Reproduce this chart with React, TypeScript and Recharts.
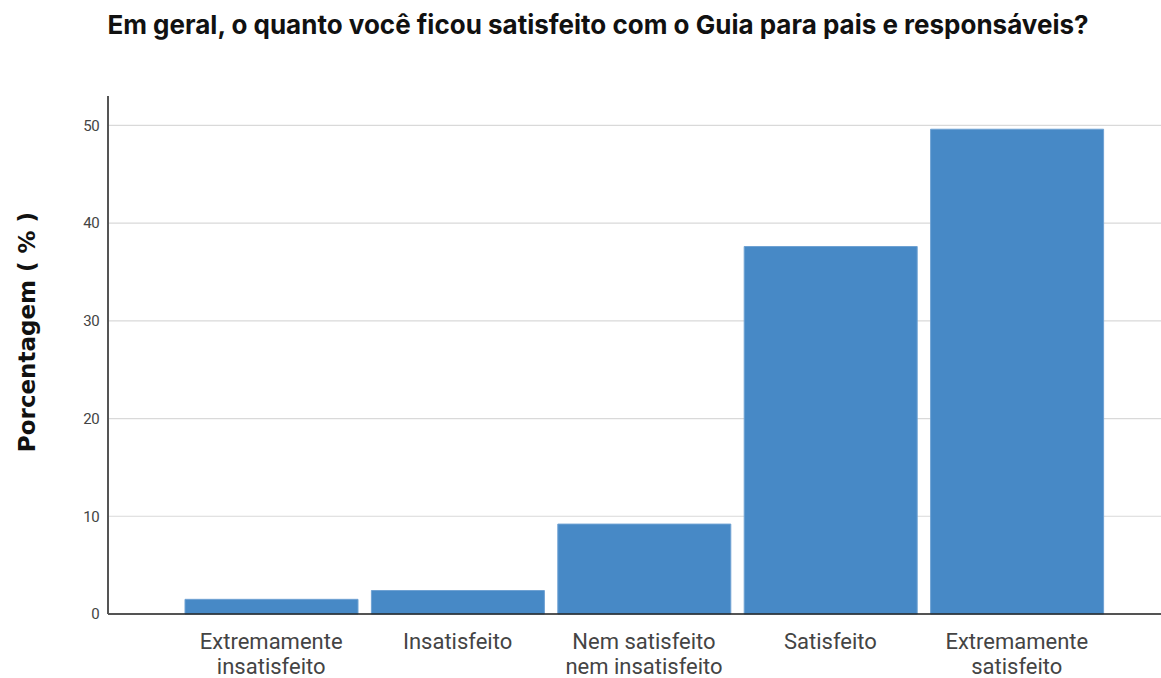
import React from 'react';
import { BarChart, Bar, XAxis, YAxis, CartesianGrid } from 'recharts';

const categories = [
  'Extremamente\ninsatisfeito',
  'Insatisfeito',
  'Nem satisfeito\nnem insatisfeito',
  'Satisfeito',
  'Extremamente\nsatisfeito',
];
const percentages = [1.5, 2.4, 9.2, 37.6, 49.6];
const yTicks = [0, 10, 20, 30, 40, 50];
const title = 'Em geral, o quanto você ficou satisfeito com o Guia para pais e responsáveis?';
const yLabel = 'Porcentagem ( % )';

const data = categories.map((c, i) => ({ category: c, value: percentages[i] }));

const XTick = (props: any) => {
  const { x, y, payload } = props;
  const lines = String(payload.value).split('\n');
  return (
    <text x={x} y={y} textAnchor="middle" fill="#444" fontFamily="Roboto, sans-serif" fontSize={22}>
      {lines.map((l: string, i: number) => (
        <tspan key={i} x={x} dy={i === 0 ? 27 : 25}>{l}</tspan>
      ))}
    </text>
  );
};

const YLabel = () => (
  <text
    x={27}
    y={332}
    transform="rotate(-90 27 332)"
    textAnchor="middle"
    dominantBaseline="central"
    fill="#111"
    fontFamily="'DejaVu Sans', sans-serif"
    fontWeight={700}
    fontSize={23}
  >
    {yLabel}
  </text>
);

export default function App() {
  return (
    <div style={{ position: 'absolute', left: 0, top: 0, width: 1161, height: 678, background: '#fff' }}>
      <div
        style={{
          position: 'absolute',
          left: 0,
          width: 1196,
          top: 9,
          textAlign: 'center',
          fontFamily: 'Inter, sans-serif',
          fontWeight: 700,
          fontSize: 26,
          color: '#111',
          whiteSpace: 'nowrap',
        }}
      >
        {title}
      </div>
      <BarChart
        width={1161}
        height={678}
        data={data}
        margin={{ top: 96, right: 0, bottom: 0, left: 0 }}
      >
        <CartesianGrid horizontal vertical={false} stroke="#d9d9d9" strokeWidth={1.2} syncWithTicks />
        <XAxis
          dataKey="category"
          height={64}
          padding={{ left: 70, right: 51 }}
          tickLine={false}
          axisLine={{ stroke: '#222', strokeWidth: 1.5 }}
          tick={<XTick />}
          interval={0}
        />
        <YAxis
          width={108}
          domain={[0, 53]}
          ticks={yTicks}
          tickLine={false}
          tickSize={0}
          tickMargin={9}
          axisLine={{ stroke: '#555', strokeWidth: 2 }}
          tick={{ fill: '#444', fontSize: 15, letterSpacing: -0.6, fontFamily: 'Roboto, sans-serif' }}
          label={<YLabel />}
        />
        <Bar dataKey="value" fill="#4789c6" stroke="#6fa2d3" strokeWidth={1} barSize={173} isAnimationActive={false} />
      </BarChart>
    </div>
  );
}
